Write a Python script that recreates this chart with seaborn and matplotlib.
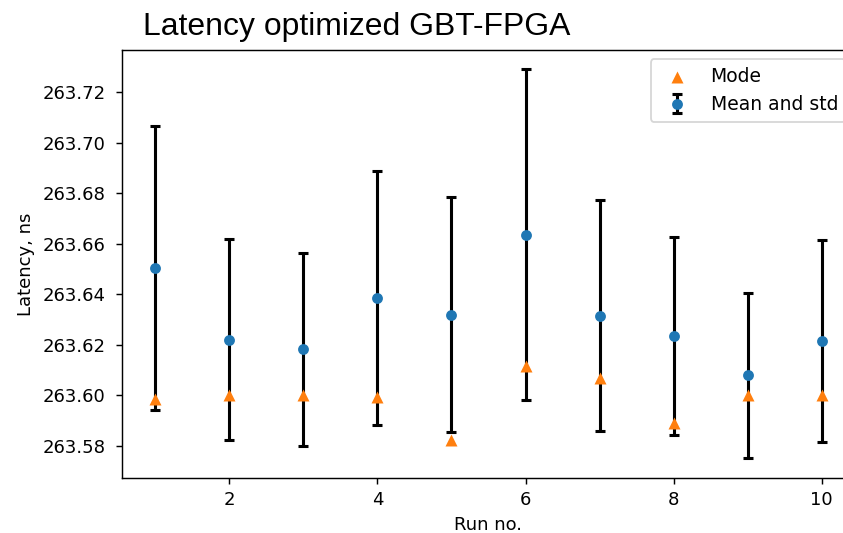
import matplotlib
matplotlib.use("Agg")
import matplotlib.pyplot as plt
import matplotlib.ticker as mticker
import seaborn as sns
import pandas as pd

runs = [1, 2, 3, 4, 5, 6, 7, 8, 9, 10]
mean_latency = [263.6506, 263.6221, 263.6183, 263.6385, 263.6320,
                263.6636, 263.6316, 263.6234, 263.6079, 263.6215]
std_latency = [0.0562, 0.0396, 0.0382, 0.0503, 0.0465,
               0.0654, 0.0457, 0.0392, 0.0325, 0.0399]
mode_latency = [263.5984, 263.6000, 263.6000, 263.5992, 263.5823,
                263.6117, 263.6067, 263.5892, 263.6000, 263.6000]

df = pd.DataFrame({"run": runs, "mean": mean_latency, "std": std_latency, "mode": mode_latency})

DPI = 130
fig = plt.figure(figsize=(843 / DPI, 533 / DPI), dpi=DPI)
ax = fig.add_axes([122 / 843, 55 / 533, (855 - 122) / 843, (478 - 50) / 533])

sns.scatterplot(data=df, x="run", y="mode", marker="^", color="#ff7f0e",
                s=44, linewidth=0, label="Mode", ax=ax, zorder=4)
ax.errorbar(df["run"], df["mean"], yerr=df["std"], fmt="o", color="#1f77b4",
            ecolor="black", elinewidth=1.7, capsize=2.6, capthick=1.7,
            markersize=5, label="Mean and std", zorder=3)

ax.set_xlim(0.55, 10.45)
ax.set_ylim(263.5673, 263.7367)
ax.xaxis.set_major_locator(mticker.MultipleLocator(2))
ax.yaxis.set_major_locator(mticker.MultipleLocator(0.02))
ax.yaxis.set_major_formatter(mticker.FormatStrFormatter("%.2f"))
ax.set_xlabel("Run no.", fontsize=10)
ax.set_ylabel("Latency, ns", fontsize=10)
ax.tick_params(labelsize=10)
ax.tick_params(axis="y", pad=5.5)
ax.legend(loc="upper right", fontsize=10.4)

fig.text(143 / 843, 1 - 35.5 / 533, "Latency optimized GBT-FPGA",
         family="Liberation Sans", fontsize=17.7, ha="left", va="baseline")

fig.savefig("out.png", dpi=DPI)
